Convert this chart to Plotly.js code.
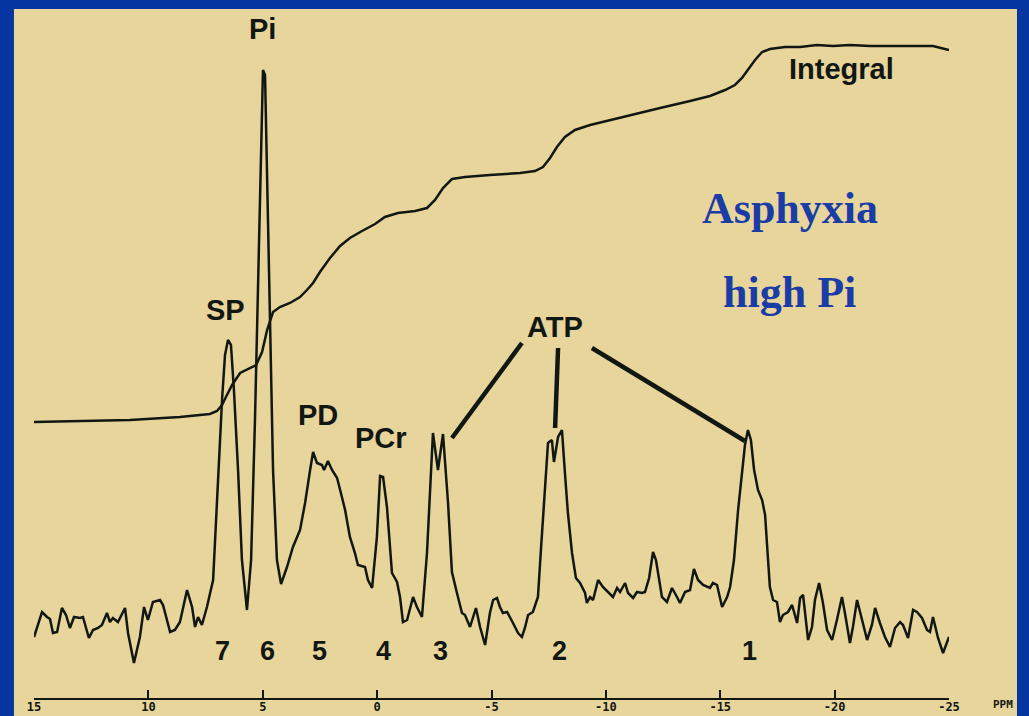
<!DOCTYPE html>
<html>
<head>
<meta charset="utf-8">
<script src="https://cdn.plot.ly/plotly-3.0.1.min.js"></script>
<style>
  html, body { margin: 0; padding: 0; background: #0535a0; }
  #chart { width: 1029px; height: 716px; }
</style>
</head>
<body>
<div id="chart"></div>
<script>
// 31P spectrum: chemical shift (ppm) and signal amplitude (arbitrary units)
const specShift = [
  15.00, 14.87, 14.65, 14.43, 14.30, 14.17, 13.99, 13.78, 13.60, 13.43,
  13.25, 12.99, 12.86, 12.60, 12.42, 12.20, 12.03, 11.81, 11.68, 11.55,
  11.33, 11.02, 10.89, 10.63, 10.37, 10.19, 10.02, 9.80, 9.49, 9.36,
  9.05, 8.84, 8.62, 8.31, 8.09, 7.96, 7.83, 7.66, 7.44, 7.17,
  6.96, 6.78, 6.65, 6.52, 6.39, 6.26, 6.08, 5.91, 5.69, 5.51,
  5.34, 5.21, 5.08, 4.99, 4.90, 4.81, 4.68, 4.55, 4.38, 4.20,
  3.94, 3.68, 3.37, 3.15, 2.93, 2.80, 2.63, 2.41, 2.32, 2.15,
  1.97, 1.75, 1.54, 1.40, 1.19, 0.97, 0.84, 0.53, 0.40, 0.22,
  0.01, -0.13, -0.26, -0.43, -0.65, -0.87, -1.00, -1.13, -1.31, -1.57,
  -1.74, -1.96, -2.18, -2.44, -2.66, -2.88, -3.10, -3.27, -3.49, -3.71,
  -3.84, -4.06, -4.32, -4.50, -4.72, -4.93, -5.07, -5.24, -5.37, -5.50,
  -5.68, -5.81, -5.94, -6.16, -6.33, -6.46, -6.60, -6.81, -7.03, -7.16,
  -7.34, -7.47, -7.64, -7.73, -7.91, -8.08, -8.21, -8.34, -8.52, -8.69,
  -8.87, -9.09, -9.17, -9.31, -9.44, -9.66, -9.87, -10.09, -10.31, -10.49,
  -10.62, -10.84, -10.97, -11.19, -11.36, -11.58, -11.71, -11.89, -12.06, -12.19,
  -12.32, -12.45, -12.67, -12.89, -13.11, -13.24, -13.46, -13.68, -13.85, -14.03,
  -14.25, -14.42, -14.55, -14.68, -14.86, -15.08, -15.30, -15.43, -15.60, -15.78,
  -15.95, -16.08, -16.21, -16.34, -16.48, -16.65, -16.83, -16.96, -17.09, -17.17,
  -17.31, -17.48, -17.61, -17.74, -17.96, -18.14, -18.36, -18.49, -18.62, -18.84,
  -19.01, -19.14, -19.32, -19.49, -19.67, -19.89, -20.10, -20.32, -20.45, -20.67,
  -20.80, -20.98, -21.20, -21.42, -21.63, -21.77, -21.98, -22.20, -22.42, -22.64,
  -22.86, -22.99, -23.21, -23.43, -23.60, -23.82, -24.04, -24.17, -24.30, -24.52,
  -24.74, -25.00
];
const specAmp = [
  61, 71, 86, 81, 79, 65, 66, 90, 83, 70,
  81, 80, 81, 60, 68, 70, 73, 85, 76, 80,
  76, 90, 65, 35, 61, 91, 78, 96, 98, 93,
  66, 68, 76, 108, 91, 71, 81, 73, 91, 118,
  218, 298, 343, 358, 353, 308, 228, 138, 88, 138,
  278, 398, 538, 628, 623, 528, 368, 228, 138, 114,
  131, 151, 168, 195, 228, 246, 235, 233, 228, 237,
  228, 220, 201, 188, 161, 145, 133, 131, 118, 110,
  161, 222, 221, 191, 125, 116, 101, 76, 78, 101,
  91, 81, 145, 265, 228, 264, 195, 126, 105, 85,
  83, 71, 90, 71, 53, 85, 98, 100, 91, 85,
  86, 81, 75, 65, 61, 70, 83, 86, 101, 148,
  211, 255, 258, 236, 261, 268, 225, 185, 145, 120,
  115, 105, 95, 101, 98, 118, 111, 106, 101, 110,
  106, 115, 105, 100, 106, 105, 106, 120, 146, 138,
  118, 101, 96, 110, 101, 95, 106, 108, 129, 118,
  113, 111, 110, 115, 113, 91, 101, 111, 138, 188,
  223, 253, 268, 258, 228, 208, 198, 183, 138, 111,
  98, 96, 76, 83, 86, 93, 75, 100, 103, 58,
  71, 98, 115, 95, 68, 58, 78, 101, 85, 55,
  71, 98, 78, 58, 73, 90, 75, 61, 51, 70,
  76, 73, 60, 88, 86, 80, 68, 66, 81, 60,
  45, 61
];

// Running integral of the spectrum
const integShift = [
  15.00, 12.99, 10.80, 8.62, 7.74, 7.31, 7.00, 6.78, 6.61, 6.34,
  5.99, 5.56, 5.29, 5.03, 4.81, 4.55, 4.25, 3.81, 3.37, 3.07,
  2.80, 2.50, 2.06, 1.62, 1.19, 0.66, 0.09, -0.34, -0.91, -1.66,
  -2.18, -2.53, -2.88, -3.27, -3.84, -4.93, -6.25, -6.90, -7.25, -7.56,
  -7.86, -8.21, -8.65, -9.31, -10.18, -11.27, -12.37, -13.68, -14.55, -15.21,
  -15.64, -15.95, -16.21, -16.52, -16.83, -17.17, -17.83, -18.49, -19.23, -19.93,
  -20.67, -21.55, -22.86, -24.30, -25.00
];
const integAmp = [
  276, 277, 278, 281, 283, 284, 287, 293, 301, 313,
  325, 330, 333, 346, 368, 386, 391, 395, 401, 408,
  415, 426, 440, 452, 460, 467, 474, 481, 485, 487,
  490, 498, 510, 519, 521, 523, 525, 527, 531, 540,
  551, 561, 568, 573, 578, 584, 590, 597, 602, 608,
  613, 620, 628, 638, 646, 649, 651, 651, 653, 652,
  653, 652, 652, 652, 648
];

// Axis ticks
const tickVals = [15, 10, 5, 0, -5, -10, -15, -20, -25];
const tickText = ['15', '10', '5', '0', '-5', '-10', '-15', '-20', '-25'];

// Peak names and their positions [ppm, amplitude]
const peakNames = ['Pi', 'SP', 'PD', 'PCr', 'ATP'];
const peakLabelPos = [[4.99, 669], [6.65, 388], [2.58, 283], [-0.17, 260], [-7.78, 371]];

// Peak numbers along the baseline
const peakNumbers = ['7', '6', '5', '4', '3', '2', '1'];
const peakNumberShift = [6.78, 4.81, 2.50, -0.26, -2.79, -7.99, -16.30];
const peakNumberAmp = 47;

// Leader lines from the ATP label to the three ATP resonances
const atpLeaders = [
  [[-6.33, 355], [-3.27, 260]],
  [[-7.91, 350], [-7.78, 270]],
  [[-9.39, 350], [-16.08, 257]]
];

const ink = '#111713';
const labelFont = { family: 'Liberation Sans, Arial, sans-serif', size: 29, color: ink };

const annotations = [];
peakNames.forEach((name, i) => {
  annotations.push({
    x: peakLabelPos[i][0], y: peakLabelPos[i][1], xref: 'x', yref: 'y',
    text: '<b>' + name + '</b>', showarrow: false, font: labelFont,
    xanchor: 'center', yanchor: 'middle'
  });
});
peakNumbers.forEach((num, i) => {
  annotations.push({
    x: peakNumberShift[i], y: peakNumberAmp, xref: 'x', yref: 'y',
    text: '<b>' + num + '</b>', showarrow: false,
    font: { family: 'Liberation Sans, Arial, sans-serif', size: 27, color: ink },
    xanchor: 'center', yanchor: 'middle'
  });
});
annotations.push({
  x: -20.32, y: 629, xref: 'x', yref: 'y', text: '<b>Integral</b>', showarrow: false,
  font: labelFont, xanchor: 'center', yanchor: 'middle'
});
annotations.push({
  x: 0.826, y: 0.711, xref: 'paper', yref: 'paper', text: '<b>Asphyxia</b>', showarrow: false,
  font: { family: 'Liberation Serif, Times New Roman, serif', size: 44, color: '#1a3ca6' },
  xanchor: 'center', yanchor: 'middle'
});
annotations.push({
  x: 0.826, y: 0.588, xref: 'paper', yref: 'paper', text: '<b>high Pi</b>', showarrow: false,
  font: { family: 'Liberation Serif, Times New Roman, serif', size: 44, color: '#1a3ca6' },
  xanchor: 'center', yanchor: 'middle'
});
annotations.push({
  x: 1.059, y: -0.010, xref: 'paper', yref: 'paper', text: '<b>PPM</b>', showarrow: false,
  font: { family: 'DejaVu Sans Mono, monospace', size: 11, color: ink },
  xanchor: 'center', yanchor: 'middle'
});

const shapes = [{
  type: 'rect', xref: 'paper', yref: 'paper', layer: 'below',
  x0: -0.0219, x1: 1.0743, y0: -0.06, y1: 1.0,
  fillcolor: '#e8d59b', line: { width: 0 }
}];
atpLeaders.forEach(seg => {
  shapes.push({
    type: 'line', xref: 'x', yref: 'y',
    x0: seg[0][0], y0: seg[0][1], x1: seg[1][0], y1: seg[1][1],
    line: { color: ink, width: 4.5 }
  });
});

const traces = [
  {
    x: specShift, y: specAmp, type: 'scatter', mode: 'lines',
    line: { color: ink, width: 2.5 }, hoverinfo: 'skip', name: 'spectrum'
  },
  {
    x: integShift, y: integAmp, type: 'scatter', mode: 'lines',
    line: { color: ink, width: 2.5 }, hoverinfo: 'skip', name: 'integral'
  }
];

const layout = {
  width: 1029, height: 716,
  margin: { l: 34, r: 80, t: 9, b: 18, pad: 0 },
  paper_bgcolor: '#0535a0',
  plot_bgcolor: 'rgba(0,0,0,0)',
  showlegend: false,
  xaxis: {
    range: [15, -25], showgrid: false, zeroline: false,
    showline: true, linecolor: ink, linewidth: 2,
    ticks: 'inside', ticklen: 8, tickwidth: 2, tickcolor: ink,
    tickvals: tickVals, ticktext: tickText.map(t => '<b>' + t + '</b>'),
    tickfont: { family: 'DejaVu Sans Mono, monospace', size: 12, color: ink },
    ticklabelstandoff: -3,
    fixedrange: true
  },
  yaxis: { range: [0, 689], visible: false, fixedrange: true },
  annotations: annotations,
  shapes: shapes
};

Plotly.newPlot('chart', traces, layout, { staticPlot: true, displayModeBar: false });
</script>
</body>
</html>
